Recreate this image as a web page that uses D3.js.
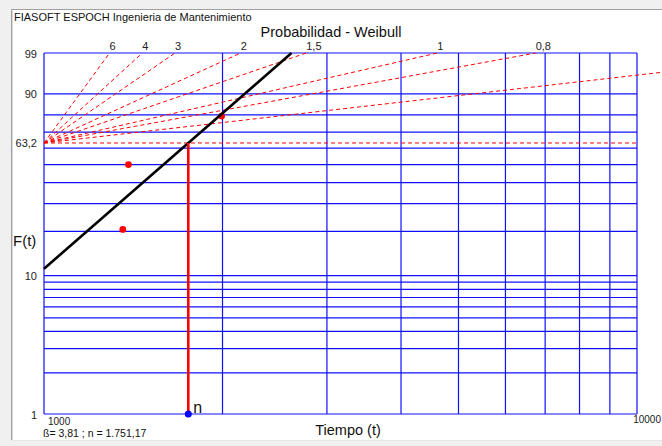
<!DOCTYPE html>
<html>
<head>
<meta charset="utf-8">
<script src="https://cdn.jsdelivr.net/npm/d3@7"></script>
<style>
  html, body { margin: 0; padding: 0; background: #f0f0f0; }
  svg { display: block; font-family: "Liberation Sans", Arial, sans-serif; }
</style>
</head>
<body>
<svg id="chart" width="662" height="446"></svg>
<script>
// Weibull probability paper: failure times vs. cumulative failure probability
const timeGrid = [1000, 2000, 3000, 4000, 5000, 6000, 7000, 8000, 9000, 10000];
const probGrid = [1, 2, 3, 4, 5, 6, 7, 8, 9, 10, 20, 30, 40, 50, 60, 70, 80, 90, 99];
const probTicks = [99, 90, 63.2, 10, 1];
const probTickLabels = ["99", "90", "63,2", "10", "1"];

// reference slopes (shape parameter) through the 63,2 % point at t = 1000
const slopeBetas = [6, 4, 3, 2, 1.5, 1, 0.8, 0.5];
const slopeLabels = ["6", "4", "3", "2", "1,5", "1", "0,8", ""];

// observed failures (time, median rank %)
const failTimes = [1358, 1388, 1993];
const failRanks = [20.6, 50.0, 79.4];

// fitted parameters
const beta = 3.81;
const eta = 1751.17;

const svg = d3.select("#chart");
const W = 662, H = 446;

// window panel
svg.append("rect").attr("x", 0).attr("y", 0).attr("width", W).attr("height", H).attr("fill", "#f0f0f0");
svg.append("rect").attr("x", 12).attr("y", 10).attr("width", W - 12).attr("height", 430).attr("fill", "#ffffff");
svg.append("line").attr("x1", 11.5).attr("x2", W).attr("y1", 9.5).attr("y2", 9.5).attr("stroke", "#a0a0a0");
svg.append("line").attr("x1", 11.5).attr("x2", 11.5).attr("y1", 9.5).attr("y2", 440).attr("stroke", "#a0a0a0");
svg.append("line").attr("x1", 12.5).attr("x2", 12.5).attr("y1", 10.5).attr("y2", 440).attr("stroke", "#d8d8d8");
svg.append("line").attr("x1", 12).attr("x2", W).attr("y1", 440.5).attr("y2", 440.5).attr("stroke", "#e6e6e6");

const plotL = 44, plotR = 637, plotT = 53, plotB = 414;

// Weibull transform of a cumulative percentage
const wt = p => Math.log(-Math.log(1 - p / 100));

const x = d3.scaleLog().domain([1000, 10000]).range([plotL, plotR]);
const y = d3.scaleLinear().domain([wt(1), wt(99)]).range([plotB, plotT]);
const yp = p => y(wt(p));

// grid
const grid = svg.append("g").attr("stroke", "#1010ff").attr("stroke-width", 1.2);
grid.selectAll("line.v").data(timeGrid).join("line").attr("class", "v")
  .attr("x1", d => x(d)).attr("x2", d => x(d)).attr("y1", plotT).attr("y2", plotB);
grid.selectAll("line.h").data(probGrid).join("line").attr("class", "h")
  .attr("x1", plotL).attr("x2", plotR).attr("y1", d => yp(d)).attr("y2", d => yp(d));

// reference slope lines
const t0 = 1000, tMax = 11500;
const slopeG = svg.append("g");
slopeBetas.forEach((b, i) => {
  const tTop = t0 * Math.exp(wt(99) / b);
  const tEnd = Math.min(tTop, tMax);
  const x1 = x(t0), y1 = y(0);
  const x2 = x(tEnd), y2 = y(b * Math.log(tEnd / t0));
  slopeG.append("line")
    .attr("x1", x1).attr("y1", y1).attr("x2", x2).attr("y2", y2)
    .attr("stroke", "#ff0000").attr("stroke-width", 1).attr("stroke-dasharray", "4,3");
  if (slopeLabels[i]) {
    slopeG.append("text").attr("x", x2).attr("y", plotT - 3.5)
      .attr("font-size", 11).attr("fill", "#222").text(slopeLabels[i]);
  }
});
// 63,2 % line
svg.append("line")
  .attr("x1", plotL).attr("x2", plotR).attr("y1", yp(63.2)).attr("y2", yp(63.2))
  .attr("stroke", "#ff0000").attr("stroke-width", 1).attr("stroke-dasharray", "4,3");

// observed points
svg.selectAll("circle.pt").data(failTimes).join("circle").attr("class", "pt")
  .attr("cx", d => x(d)).attr("cy", (d, i) => yp(failRanks[i])).attr("r", 3.4)
  .attr("fill", "#ff0000");

// fitted Weibull line
const tHigh = eta * Math.exp(wt(99) / beta);
const fitLine = d3.line().x(d => x(d)).y(d => y(beta * Math.log(d / eta)));
svg.append("path").datum([1000, tHigh]).attr("d", fitLine)
  .attr("fill", "none").attr("stroke", "#000").attr("stroke-width", 2.6);

// characteristic life marker
svg.append("line").attr("x1", x(eta)).attr("x2", x(eta)).attr("y1", yp(63.2)).attr("y2", plotB)
  .attr("stroke", "#ff0000").attr("stroke-width", 2.6);
svg.append("circle").attr("cx", x(eta)).attr("cy", plotB).attr("r", 3.5).attr("fill", "#0000ff");
svg.append("text").attr("x", x(eta) + 5).attr("y", plotB - 1)
  .attr("font-size", 16).attr("fill", "#111").text("n");

// y tick labels
svg.selectAll("text.yl").data(probTicks).join("text").attr("class", "yl")
  .attr("x", 37).attr("y", d => yp(d) + 4.5).attr("text-anchor", "end")
  .attr("font-size", 11).attr("fill", "#222").text((d, i) => probTickLabels[i]);

// x range labels
svg.append("text").attr("x", 48).attr("y", 425).attr("font-size", 10).attr("fill", "#222").text("1000");
svg.append("text").attr("x", 661).attr("y", 423).attr("text-anchor", "end")
  .attr("font-size", 10).attr("fill", "#222").text("10000");

// titles
svg.append("text").attr("x", 14).attr("y", 21).attr("font-size", 11).attr("fill", "#111")
  .text("FIASOFT ESPOCH Ingenieria de Mantenimiento");
svg.append("text").attr("x", 331).attr("y", 37).attr("text-anchor", "middle")
  .attr("font-size", 14.5).attr("fill", "#111").text("Probabilidad - Weibull");
svg.append("text").attr("x", 13).attr("y", 246).attr("font-size", 15).attr("fill", "#111").text("F(t)");
svg.append("text").attr("x", 348).attr("y", 435).attr("text-anchor", "middle")
  .attr("font-size", 14.5).attr("fill", "#111").text("Tiempo (t)");
svg.append("text").attr("x", 43).attr("y", 437).attr("font-size", 10.5).attr("fill", "#111")
  .text("ß= " + d3.format(".2f")(beta).replace(".", ",") + " ; n = 1.751,17");
</script>
</body>
</html>
